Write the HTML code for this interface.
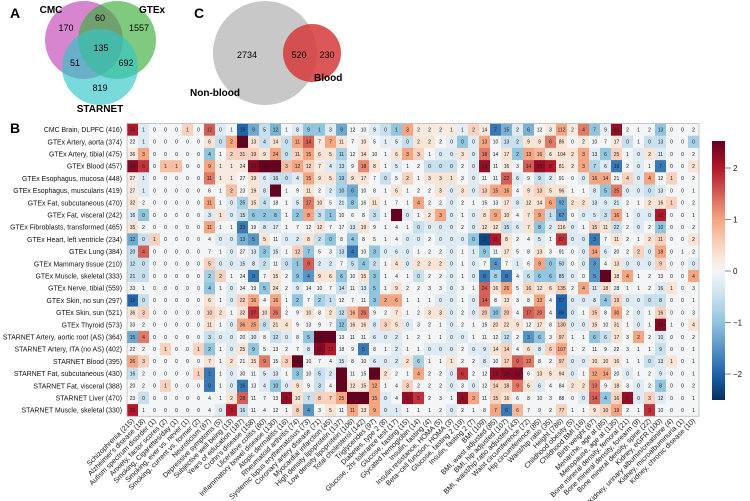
<!DOCTYPE html>
<html><head><meta charset="utf-8"><style>
html,body{margin:0;padding:0;background:#fff;}
svg{display:block;font-family:"Liberation Sans",Arial,sans-serif;}
</style></head><body>
<svg id="fig" width="750" height="501" viewBox="0 0 750 501" xmlns="http://www.w3.org/2000/svg">
<g>
<text x="10" y="18" font-size="14" font-weight="bold">A</text>
<circle cx="84" cy="40" r="39" fill="#c651b9" fill-opacity="0.7"/>
<circle cx="117" cy="40" r="39" fill="#3cae3c" fill-opacity="0.65"/>
<circle cx="100" cy="67" r="38" fill="#30c6c8" fill-opacity="0.65"/>
<text x="51" y="13" font-size="10" font-weight="bold" text-anchor="middle">CMC</text>
<text x="152" y="13" font-size="10" font-weight="bold" text-anchor="middle">GTEx</text>
<text x="100" y="112" font-size="10" font-weight="bold" text-anchor="middle">STARNET</text>
<g font-size="9" text-anchor="middle">
<text x="66" y="31">170</text>
<text x="100" y="21">60</text>
<text x="139" y="31">1557</text>
<text x="101" y="51">135</text>
<text x="75" y="66">51</text>
<text x="126" y="66">692</text>
<text x="100" y="91">819</text>
</g></g>
<g>
<text x="194" y="18" font-size="14" font-weight="bold">C</text>
<circle cx="265" cy="53" r="52" fill="#c8c8c8"/>
<circle cx="312" cy="53" r="29" fill="#d63a3a" fill-opacity="0.85"/>
<text x="247" y="58" font-size="9" text-anchor="middle">2734</text>
<text x="299" y="58" font-size="9" text-anchor="middle">520</text>
<text x="327" y="58" font-size="9" text-anchor="middle">230</text>
<text x="314" y="81" font-size="10" font-weight="bold">Blood</text>
<text x="190" y="96" font-size="10" font-weight="bold">Non-blood</text>
</g>
<text x="10" y="133" font-size="14" font-weight="bold">B</text>
<g id="heat"></g>
<g id="cbar"></g>
</svg>
<script>
const rowLabels=["CMC Brain, DLPFC (416)","GTEx Artery, aorta (374)","GTEx Artery, tibial (475)","GTEx Blood (457)","GTEx Esophagus, mucosa (448)","GTEx Esophagus, muscularis (419)","GTEx Fat, subcutaneous (470)","GTEx Fat, visceral (242)","GTEx Fibroblasts, transformed (465)","GTEx Heart, left ventricle (234)","GTEx Lung (384)","GTEx Mammary tissue (210)","GTEx Muscle, skeletal (333)","GTEx Nerve, tibial (559)","GTEx Skin, no sun (297)","GTEx Skin, sun (521)","GTEx Thyroid (573)","STARNET Artery, aortic root (AS) (364)","STARNET Artery, ITA (no AS) (402)","STARNET Blood (395)","STARNET Fat, subcutaneous (430)","STARNET Fat, visceral (388)","STARNET Liver (470)","STARNET Muscle, skeletal (330)"];
const colLabels=["Schizophrenia (215)","Alzheimer's disease (18)","Autism spectrum disorder (1)","Anxiety, factor scores (2)","Smoking, Cigarettes/day (1)","Smoking, ever vs. never (1)","Smoking, current vs. former (2)","Neuroticism (67)","Depressive symptoms (5)","Subjective well being (13)","Years of education (187)","Crohn's disease (158)","Ulcerative colitis (60)","Inflammatory bowel disease (130)","Atopic dermatitis (16)","Rheumatoid arthritis (74)","Systemic lupus erythematosus (73)","Coronary artery disease (71)","Myocardial infarction (45)","High density lipoprotein (137)","Low density lipoprotein (106)","Total cholesterol (142)","Triglycerides (97)","Diabetes, type 2 (8)","Glucose, 2hr tolerance test (17)","Glucose, fasting (15)","Glycated hemoglobin (14)","Insulin, fasting (4)","Insulin resistance, HOMA (5)","Beta−cell function, HOMA (3)","Glucose, fasting 2 (19)","Insulin, fasting 2 (7)","BMI (109)","BMI, waist adjusted (85)","BMI, hip adjusted (107)","BMI, waist/hip ratio adjusted (43)","Waist circumference (72)","Hip circumference (85)","Waist/hip ratio (35)","Height (786)","Childhood obesity (5)","Childhood BMI (16)","Birth weight (67)","Menarche, age at (85)","Menopause, age at (135)","Bone mineral density, femoral (21)","Bone mineral density, forearm (9)","Bone mineral density, spine (22)","Kidney, eGFR (100)","Kidney, urinary albumin/creatinine (4)","Kidney, microalbuminuria (1)","Kidney, chronic disease (10)"];
const counts=[
[36,1,0,0,0,1,0,12,0,1,19,9,5,12,1,8,9,1,3,9,12,10,9,0,1,3,2,2,2,1,1,2,14,7,15,2,6,12,3,112,2,4,7,9,31,2,1,2,13,0,0,2],
[22,1,0,0,0,0,0,6,0,2,30,13,4,14,0,11,14,7,7,11,7,10,5,1,5,0,2,2,2,0,0,0,13,10,13,2,9,9,6,86,0,2,10,7,17,0,1,0,13,0,0,0],
[36,3,0,0,0,0,0,4,1,2,31,19,9,24,0,11,15,6,5,11,12,14,10,1,6,3,3,1,0,0,3,0,18,14,17,2,13,16,6,104,2,3,13,6,25,1,0,2,11,0,0,2],
[34,6,0,1,1,0,0,9,1,1,24,24,14,30,3,12,12,7,4,13,9,18,8,1,5,1,2,0,0,0,2,0,19,11,16,3,14,19,8,81,2,3,7,6,16,2,0,1,7,0,0,2],
[27,1,0,0,0,0,0,11,1,1,27,19,6,16,0,4,15,9,5,19,9,17,7,0,5,2,1,3,3,1,3,0,11,11,22,6,9,9,2,91,0,0,16,14,21,4,0,4,12,1,0,2],
[27,1,0,0,0,0,0,6,1,2,23,19,8,26,1,9,11,2,2,10,6,10,8,1,6,1,2,2,3,0,3,0,13,15,16,4,9,13,5,96,1,1,8,5,25,0,0,0,13,0,0,1],
[32,2,0,0,0,0,0,11,1,0,25,15,4,18,1,5,17,10,5,21,8,16,11,1,7,1,4,2,2,0,2,1,15,13,17,8,12,14,6,92,2,2,13,9,21,2,1,2,16,1,0,2],
[16,0,0,0,0,0,0,3,1,0,15,6,2,8,1,2,8,3,1,10,6,8,3,1,8,0,1,2,3,0,1,0,8,9,10,4,7,9,1,67,0,0,5,3,16,1,0,0,12,0,0,1],
[35,2,0,0,0,0,0,11,1,1,23,19,8,17,1,7,12,12,7,17,13,19,9,1,4,1,0,0,0,0,2,0,12,12,15,6,7,8,2,116,0,1,15,11,22,2,0,2,10,0,0,2],
[12,0,1,0,0,0,0,4,0,0,13,5,5,11,0,2,8,2,0,8,4,8,5,1,4,0,0,2,0,0,0,0,2,11,8,2,4,5,1,67,0,0,3,7,11,2,1,2,11,0,0,2],
[20,4,0,0,0,0,0,7,1,0,27,13,3,15,1,12,7,5,3,13,4,10,3,0,6,0,1,2,2,0,1,1,9,11,17,5,8,13,3,91,0,0,14,6,20,2,2,0,18,0,1,2],
[12,0,0,0,0,0,0,5,0,0,15,8,2,11,0,1,9,2,2,7,5,4,2,1,4,0,2,2,2,0,1,0,7,4,7,1,6,9,0,50,0,0,3,4,13,0,0,0,9,0,0,0],
[21,0,0,0,0,0,0,2,2,1,24,9,7,15,2,9,4,9,6,6,10,15,3,1,4,1,0,2,2,0,1,0,8,8,8,4,6,6,6,85,0,0,5,31,18,4,1,2,13,0,0,4],
[33,1,0,0,0,0,0,4,1,0,34,19,5,24,2,9,14,10,7,14,11,13,5,1,9,2,2,3,3,0,3,1,24,16,26,5,16,12,6,135,2,4,11,18,28,1,1,2,16,1,0,3],
[12,0,0,0,0,0,0,6,1,0,22,16,4,16,1,2,7,2,1,12,7,11,3,2,6,1,1,1,0,0,1,0,14,8,13,3,8,13,4,57,0,0,8,4,19,0,0,0,8,0,0,1],
[36,3,0,0,0,0,0,10,2,1,32,27,10,26,2,9,10,8,2,12,16,26,9,2,7,1,2,3,3,0,2,0,20,10,20,4,17,20,4,86,0,1,15,8,30,2,0,1,16,0,0,3],
[33,2,0,0,0,0,0,11,1,0,36,25,8,21,4,9,13,9,7,12,16,16,8,3,5,0,3,2,1,0,2,1,15,20,22,9,12,17,8,130,0,0,15,10,31,1,0,1,26,1,0,4],
[15,4,0,0,0,0,0,3,0,0,20,10,8,12,0,8,5,20,14,13,11,11,6,0,2,1,2,1,1,0,0,1,11,12,12,2,3,6,3,97,1,1,6,6,17,3,2,2,10,0,0,2],
[22,2,0,1,0,0,1,2,1,0,25,9,5,13,2,7,8,17,12,18,9,5,8,1,2,1,1,0,0,0,2,0,9,14,14,4,6,8,6,107,1,2,11,9,22,3,1,1,9,0,0,1],
[26,3,0,0,0,0,0,7,1,2,21,15,9,15,3,18,10,7,4,15,8,10,6,0,2,2,6,1,1,1,2,2,8,10,17,9,12,8,2,97,0,0,10,10,16,1,1,0,13,1,0,1],
[16,2,0,0,0,0,1,1,1,0,30,11,5,13,1,3,10,5,2,30,11,15,30,2,2,1,4,2,2,0,6,2,12,19,19,12,6,13,5,94,0,1,12,14,20,0,1,2,9,0,0,1],
[20,2,0,1,0,0,0,0,1,0,16,13,4,10,0,9,9,3,4,26,12,15,12,1,4,3,2,2,2,0,3,0,12,14,18,9,6,6,4,84,2,2,13,9,18,3,0,2,8,0,0,2],
[23,0,0,0,0,0,0,4,1,2,28,11,7,13,5,10,7,8,7,25,24,36,15,0,4,5,5,2,3,1,6,3,11,15,16,6,8,10,3,88,0,0,14,4,16,6,0,3,12,0,0,1],
[26,1,0,0,0,0,0,4,0,3,16,11,4,12,1,8,4,3,5,11,11,13,9,0,1,1,1,1,2,0,2,1,8,7,6,6,7,9,2,77,1,1,9,10,19,2,1,3,10,0,0,1]];
const zscores=[
[2,-0.3,0,0,0,0.5,0,1.5,-0.3,0,-2,-1.3,-0.5,-1.2,0,-0.3,-1,-1,-0.3,-1.3,0,0,-0.3,-0.5,-1,1,0.2,0.2,0.2,0.2,-0.2,0.5,0.2,-1.8,-1.2,-0.3,-1.2,0,0.2,1,0.2,1.3,-1,-0.2,2.2,0,0,0,-1,0,0,0],
[0,-0.3,0,0,0,0,0,0.3,-0.5,1,2.5,0.3,-0.5,0.3,-0.5,1,1.5,0.2,1,0.3,0,0.2,0,-0.2,-0.2,-0.5,0.3,0.3,0,-0.2,-1,-0.3,1,0,-0.5,-0.5,0.3,0.3,1.3,0.3,0,0.2,0,0,0.2,-0.5,0,-0.5,-0.5,0,0,-0.8],
[0.2,1,0,0,0,0,0,-1,0,0.5,0.5,0.5,0.3,1,-0.5,0.5,1,0.3,0.3,-0.8,0,0.3,0,0,0.3,1,0.5,0,-0.3,-0.3,0.3,-0.3,1.3,0,0.3,-1,1,0.8,0.3,0.3,0.3,1,-0.3,-1,0.5,0,-0.3,0.3,-0.3,0,0,0],
[2.3,1.8,0,0.7,0.7,0,0,1,0.2,0.2,0.2,2.3,2.5,2.5,0.7,1,0.5,0.2,-0.3,-0.5,0,1.2,0.3,0,-0.3,0,0,-0.5,-0.5,-0.5,0,-0.3,2.2,0,0.2,0,1.5,2.2,2,0.3,0.2,1,-0.7,-0.3,-1.8,0,-0.3,0,-1.8,0,0,0.3],
[0.2,-0.3,0,0,0,0,0,1.3,0.2,0.2,0,0.3,-0.3,-0.5,-0.5,-0.3,1,0.3,0.3,-0.8,0.3,0.3,0,-0.5,0,0.5,0,0.3,0.3,0.3,0,-0.3,0,0,1.5,-0.3,0,-0.5,-0.3,0,0,-0.3,1,1,0,0.5,-0.3,1,0,0.5,0,0],
[0.2,-0.3,0,0,0,0,0,0,0,0.7,0,0.3,-0.3,2.5,0,0,0.3,0,-0.3,-0.8,-1.3,0,0,0,0.3,0,0,0,0.3,-0.3,0.3,-0.3,0.5,1,1,0,0.3,0.5,0.3,0.3,0,0,-0.3,-1,1.3,-0.3,-0.3,-0.5,-0.3,0,0,0],
[0.3,0,0,0,0,0,0,1,0,-0.3,-0.8,0.3,-0.5,0,0,-0.3,1.3,0.3,0,-0.3,-1,0,0.3,0,0,0,1,0,0,-0.3,0,0,0,0,0.3,-0.3,0.3,0.3,1,-1.3,0.3,0.3,-0.3,-0.3,-0.3,0,0,0.3,0.3,0.5,0,0],
[-0.3,-1,0,0,0,0,0,-0.3,0.3,-0.3,-0.5,-1,-1,-1,0,-1,1,-0.5,-1,0,0,0,-0.5,0,2.5,-0.3,0,0.3,1,-0.3,0,-0.3,0.3,1,0.3,0,0.3,1,-0.5,-1.5,0,-0.3,-0.3,-0.5,1,0,-0.3,-0.3,2,0,0,0],
[0.3,0,0,0,0,0,0,1,0,0,-1.8,0,-0.3,-0.3,0,0,0,0.3,0,0,-0.3,0.3,0,0,0,0,-0.5,-0.3,-0.3,-0.3,0,-0.3,0.3,0.3,-0.5,-0.3,0.3,-1,-0.3,0.3,-0.3,0,0.5,0.3,-0.5,0,-0.3,0,-1,0,0,0],
[-1.3,-0.5,0.5,0,0,0,0,0,-0.3,-0.3,-1.2,-1.5,0.3,0,-0.3,-0.3,0.3,-0.5,-1,0,-1,0,0,0,0,-0.3,-0.3,0,-0.3,-0.3,-0.3,-1,-2.3,2,0.3,0,0,-0.3,0,1.8,-0.3,-0.3,-1.8,0,0.3,0,0,0.3,0.5,0,0,0.3],
[-0.5,1.5,0,0,0,0,0,0,0,-0.3,0,-0.3,-1,-0.3,0,0.5,-1,0,0,-0.5,-1.8,0,-1,-0.3,-0.3,-0.3,0,0,0,-0.3,0,-0.3,-1,0,0.3,0,0,0.3,0,0,0,-0.3,1,-0.3,0,0,0.5,-0.3,1,0,0,0],
[-0.5,-0.5,0,0,0,0,0,0.5,-0.3,-0.3,-0.3,-0.3,-0.5,0,-0.5,-1,1.5,-0.3,-0.3,0,-0.5,-1,-0.5,0,0.3,-0.3,0.3,0.3,0.3,-0.3,0,-0.3,0,-1.5,0,-0.3,0,1,-1,-0.5,0,-0.3,-1.5,0,0.3,-0.3,-0.3,-0.3,0.5,0,0,-0.3],
[-0.5,-0.5,0,0,0,0,0,-0.8,0.5,0,0,-1.8,0,0.3,0,-1,-1.5,0.3,0.3,-1,0,0.3,-1,0,0,0,-0.5,0,0,-0.3,0,-0.3,-1.8,-0.8,-1.8,0,-0.5,-1,-1,-0.5,-0.3,0,-1.5,2.5,0.3,1,0,0,0,0,0,1],
[0,0,0,0,0,0,0,-1,0,-0.3,0,0,-1,0.3,0,-0.3,0,0,0,-0.5,0,-0.3,-1,0,0.3,0,0,0,0,-0.3,0,0,1.5,0.3,1,0,0.5,0.3,0.3,0.5,0,1,-0.3,0.3,0,0,0,0,-0.3,0.3,0,0],
[-2,-0.5,0,0,0,0,0,0.3,0,-0.3,0.5,1,0,1,0,-1,0,-0.8,-0.5,0,0,0,-1,1,1,0,0,0,-0.3,-0.3,0,-0.3,1.5,0,0.3,0,0,1,0,-2,-0.3,-0.3,-0.3,-1,0.5,-0.3,-0.3,-0.5,-0.5,0,0,0],
[0.3,0.5,0,0,0,0,0,0.5,0.3,0,0.3,1.8,0.3,1.3,0,0,0.3,0,0.3,-0.5,0.8,1.3,0,0,0.3,0,0,0.3,0.3,-0.3,0,-0.3,0.5,-1,0.5,0,1.5,1.3,0,-2,-0.3,0,0.5,0,1,0,-0.3,0,0.5,0,0,0],
[0,0,0,0,0,0,0,0.3,0,-0.3,1,1,-0.5,0.3,0.3,0,0,0,0,-1,0.3,0.3,-0.3,0.5,0.3,-0.3,0,0,0,-0.3,0,0,0,0.3,0.3,0.3,0,0.3,0,0.5,-0.3,-0.3,0.3,0,0.3,0,-0.3,0,2.3,0,0,0.3],
[-1.3,1.3,0,0,0,0,0,-0.5,-0.3,-0.3,0,-0.3,0,-0.5,-0.3,0,-1,2.5,2.5,0,0,0,-0.3,-0.3,-0.3,0,0,0,0,-0.3,-0.3,0,0,0,-0.5,0,-1.5,-1,0,0.5,0,0,-1,-0.5,0.3,0,1,0,-0.3,0,0,0],
[0,0,0,0.5,0,0,0.5,-1,0,-0.3,0.3,-1,0,0,0,0,-0.3,2.3,2,0,0,-1.8,0,0,-0.3,0,0,-0.3,-0.3,-0.3,0,-0.3,-0.3,0.3,0.5,0,0.3,-0.3,0.5,1,0,0,0,0,0,0,0,0,-0.5,0,0,0],
[1,0.5,0,0,0,0,0,0.3,0,0.3,0,0.3,1.3,0,0.5,2.5,0,0,0,-0.3,0,0,-0.3,-0.3,-0.3,0.3,-0.8,0,0,0.3,0,0,-0.3,0,0.5,1.5,1.3,0,0,0.5,-0.3,-0.3,0.3,0.3,0.3,0,0,-0.5,-0.3,0.3,0,0],
[-0.5,0,0,0,0,0,0.5,-1.8,0,-0.3,0,0,-0.3,-0.3,0,-1,0,-0.5,-0.3,2.5,0,0,2.5,0.3,0,0,1,0,0,-0.3,1.8,0,0,2.2,2.3,2.3,0,0.3,0.3,0.3,-0.3,0,1,1,0,-0.3,0,0,-0.3,0,0,0],
[0,0,0,0.5,0,0,0,-1.8,0,-0.3,-1.8,0,-0.3,-1,-0.3,0.3,0,-0.5,0,2.5,0.3,0.3,1,0,0,0.5,0,0,0,-0.3,0,-0.3,0,0.5,0.5,1.3,0.3,-0.3,0,0,0.3,0.3,1.3,0,0.3,0,-0.3,0,-1,0,0,0],
[0,-0.5,0,0,0,0,0,0,0,0.3,1.5,0,0,0,2.2,0.3,-0.5,0.5,0.5,1,2.5,2.5,1,-0.3,0,2.2,1.8,0,0,0,2.2,1,0,0.5,0.3,0,0,0,0,0,0,-0.3,1.5,-1,0.5,2.2,-0.3,0.5,-0.3,0,0,0],
[2,0,0,0,0,0,0,0,-0.3,2,-0.5,0,0,0,0,0.5,-1.5,0,0.3,0,1,0.3,1,-0.3,-0.3,0,0,0,0,-0.3,0,0,0,1,-1.8,0.8,0,0,0,0.5,0,0,0.3,0.5,1,0,0,1.8,0,0,0,0]];
const cbTicks=[2,1,0,-1,-2];

const NS="http://www.w3.org/2000/svg";
const X0=127,Y0=123.5,CW=11,RH=12.2;
const xPos=c=>X0+c*CW, yPos=r=>Y0+r*RH;
const stops=[[-2.5,[5,48,97]],[-2,[33,102,172]],[-1,[146,197,222]],[-0.3,[222,235,244]],[0,[244,245,246]],[0.3,[250,228,214]],[1,[244,165,130]],[2,[178,24,43]],[2.5,[103,0,31]]];
function col(z){z=Math.max(-2.5,Math.min(2.5,z));for(let i=0;i<stops.length-1;i++){const a=stops[i],b=stops[i+1];if(z<=b[0]){const t=(z-a[0])/(b[0]-a[0]);const c=a[1].map((v,k)=>Math.round(v+(b[1][k]-v)*t));return`rgb(${c[0]},${c[1]},${c[2]})`;}}return"rgb(103,0,31)";}
function mk(tag,attrs,parent){const e=document.createElementNS(NS,tag);for(const k in attrs)e.setAttribute(k,attrs[k]);parent.appendChild(e);return e;}
const heat=document.getElementById("heat");
counts.forEach((row,r)=>{
  const lab=mk("text",{x:122,y:yPos(r)+RH/2+2.5,"font-size":6.9,"text-anchor":"end",fill:"#111"},heat);
  
  
  lab.textContent=rowLabels[r];
  row.forEach((v,c)=>{
    const rc=mk("rect",{x:xPos(c),y:yPos(r),width:CW+0.3,height:RH+0.3,fill:col(zscores[r][c])},heat);
    
    
    const t=mk("text",{x:xPos(c)+CW/2,y:yPos(r)+RH/2+1.8,"font-size":5,"text-anchor":"middle",fill:"#222"},heat);
    
    
    t.textContent=v;
  });
});
const fr=mk("rect",{x:X0,y:Y0,width:CW*52,height:RH*24,fill:"none",stroke:"#bbb","stroke-width":0.8},heat);


colLabels.forEach((l,c)=>{
  const cx=xPos(c)+CW/2+2,cy=Y0+RH*24+5;
  const t=mk("text",{x:cx,y:cy,"font-size":7.1,"text-anchor":"end",fill:"#111",transform:`rotate(-45 ${cx} ${cy})`},heat);
  
  
  t.textContent=l;
});
const cb=document.getElementById("cbar");
const CBX=712,CBW=13,CBT=141,CBB=400,Z0=271,PU=51.5;
const zy=z=>Z0-z*PU;
const defs=mk("defs",{},cb);
const g=mk("linearGradient",{id:"cbg",x1:0,y1:1,x2:0,y2:0},defs);
for(let i=0;i<=20;i++){const z=-2.53+5.06*i/20;mk("stop",{offset:i/20,"stop-color":col(z)},g);}
const br=mk("rect",{x:CBX,y:CBT,width:CBW,height:CBB-CBT,fill:"url(#cbg)"},cb);


cbTicks.forEach(z=>{
  const ln=mk("line",{x1:CBX+CBW,x2:CBX+CBW+6,y1:zy(z),y2:zy(z),stroke:"#666","stroke-width":0.8},cb);
  
  
  const t=mk("text",{x:CBX+CBW+8,y:zy(z)+3,"font-size":8,fill:"#111"},cb);
  
  
  t.textContent=z<0?"\u2212"+(-z):String(z);
});
</script>
</body></html>
